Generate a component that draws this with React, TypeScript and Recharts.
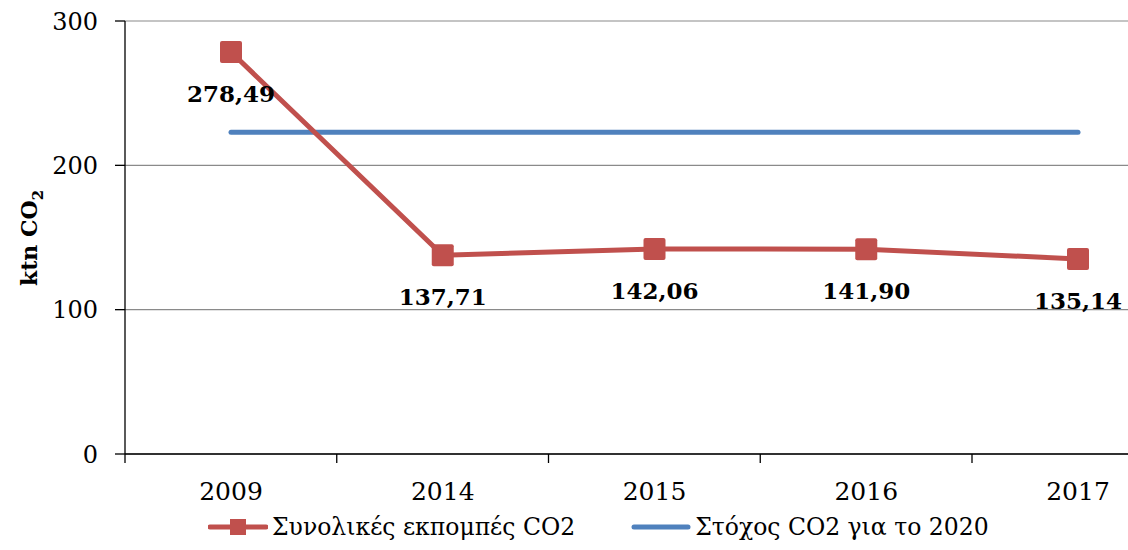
import { LineChart, Line, XAxis, YAxis, CartesianGrid, Legend, LabelList } from "recharts";

const years = ["2009", "2014", "2015", "2016", "2017"];
const emissions = [278.49, 137.71, 142.06, 141.9, 135.14];
const target2020 = [223, 223, 223, 223, 223];
const yTicks = [0, 100, 200, 300];

const data = years.map((year, i) => ({
  year,
  emissions: emissions[i],
  target: target2020[i],
}));

const FONT = "'DejaVu Serif', serif";
const RED = "#C0504D";
const BLUE = "#4F81BD";
const HALF_BAND = 106;

const fmt = (v: number) => v.toFixed(2).replace(".", ",");

const XTick = (props: any) => {
  const { x, y, payload } = props;
  return (
    <g>
      <line x1={x - HALF_BAND} x2={x - HALF_BAND} y1={y - 9} y2={y} stroke="#000" strokeWidth={1.3} />
      <text x={x} y={y + 37} textAnchor="middle" fontSize={25} fontFamily={FONT} fill="#000">
        {payload.value}
      </text>
    </g>
  );
};

const SquareDot = (props: any) => {
  const { cx, cy } = props;
  if (cx == null || cy == null) return null;
  return <rect x={cx - 11} y={cy - 11} width={22} height={22} rx={2} fill={RED} />;
};

const ValueLabel = (props: any) => {
  const { x, y, value } = props;
  return (
    <text x={x} y={y + 50} textAnchor="middle" fontSize={23} fontWeight="bold" fontFamily={FONT} fill="#000">
      {fmt(value)}
    </text>
  );
};

const YLabel = () => (
  <text
    x={37}
    y={238}
    transform="rotate(-90 37 238)"
    textAnchor="middle"
    fontSize={22}
    fontWeight="bold"
    fontFamily={FONT}
    fill="#000"
  >
    ktn CO
    <tspan fontSize={15} dy={6}>2</tspan>
  </text>
);

const LegendContent = () => (
  <div
    style={{
      height: 46,
      display: "flex",
      alignItems: "center",
      paddingLeft: 208,
      gap: 56,
      fontFamily: FONT,
      fontSize: 23.5,
      color: "#000",
    }}
  >
    <div style={{ display: "flex", alignItems: "center", gap: 4 }}>
      <svg width={60} height={20}>
        <line x1={2} x2={58} y1={10} y2={10} stroke={RED} strokeWidth={5} strokeLinecap="round" />
        <rect x={22} y={2} width={16} height={16} fill={RED} />
      </svg>
      <span>Συνολικές εκπομπές CO2</span>
    </div>
    <div style={{ display: "flex", alignItems: "center", gap: 4 }}>
      <svg width={60} height={20}>
        <line x1={3} x2={57} y1={10} y2={10} stroke={BLUE} strokeWidth={5} strokeLinecap="round" />
      </svg>
      <span>Στόχος CO2 για το 2020</span>
    </div>
  </div>
);

export default function App() {
  return (
    <div style={{ position: "fixed", left: 0, top: 0, width: 1128, height: 550, overflow: "hidden", background: "#fff" }}>
      <LineChart width={1184} height={550} data={data} margin={{ top: 21, right: 0, bottom: 0, left: 0 }}>
        <CartesianGrid vertical={false} stroke="#8a8a8a" strokeWidth={1.2} />
        <XAxis
          dataKey="year"
          height={50}
          padding={{ left: HALF_BAND, right: HALF_BAND }}
          tick={<XTick />}
          tickLine={false}
          tickSize={9}
          tickMargin={0}
          axisLine={{ stroke: "#000", strokeWidth: 1.3 }}
          interval={0}
        />
        <YAxis
          domain={[0, 300]}
          ticks={yTicks}
          width={125}
          tickSize={10}
          tickMargin={17}
          tick={{ fontSize: 24, fontFamily: FONT, fill: "#000" }}
          tickLine={{ stroke: "#000", strokeWidth: 1.3 }}
          axisLine={{ stroke: "#000", strokeWidth: 1.3 }}
          label={<YLabel />}
        />
        <Legend verticalAlign="bottom" height={46} content={<LegendContent />} />
        <Line
          dataKey="target"
          stroke={BLUE}
          strokeWidth={5}
          strokeLinecap="round"
          dot={false}
          activeDot={false}
          isAnimationActive={false}
        />
        <Line
          dataKey="emissions"
          stroke={RED}
          strokeWidth={5}
          dot={<SquareDot />}
          activeDot={false}
          isAnimationActive={false}
        >
          <LabelList dataKey="emissions" content={<ValueLabel />} />
        </Line>
      </LineChart>
    </div>
  );
}
